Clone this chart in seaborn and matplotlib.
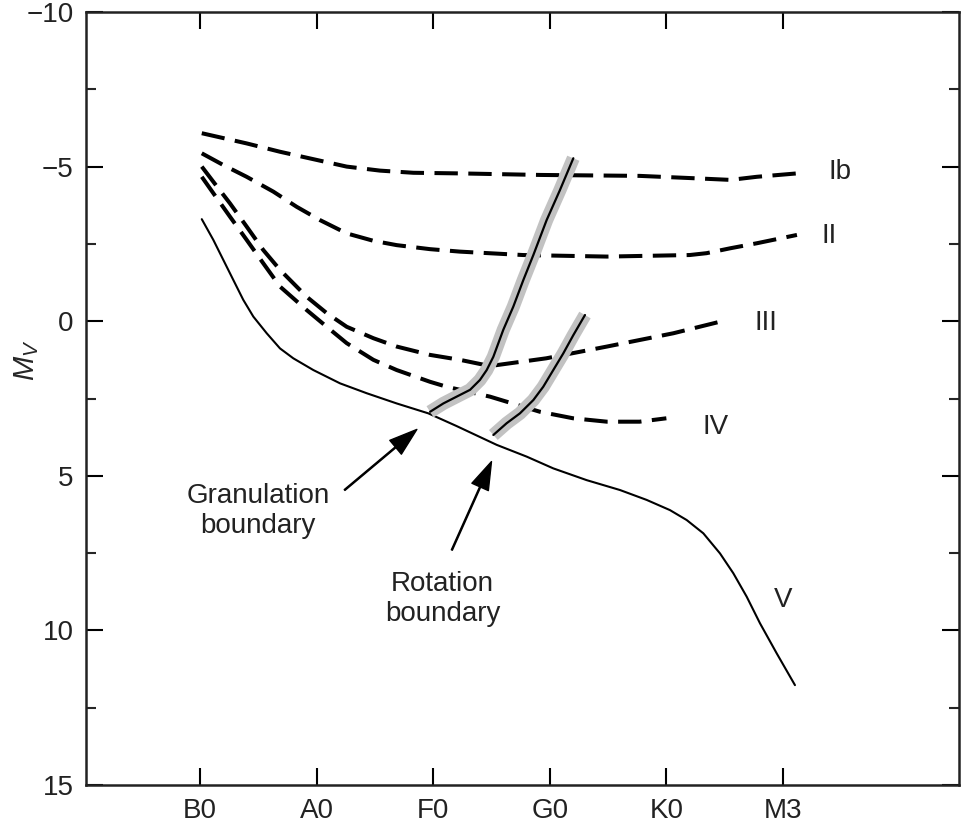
import matplotlib
matplotlib.use("Agg")
import matplotlib.pyplot as plt
import seaborn as sns
import pandas as pd

# ---- data (spectral type index: B0=0, A0=1, F0=2, G0=3, K0=4, M3=5) ----
spectral_labels = ["B0", "A0", "F0", "G0", "K0", "M3"]
spectral_pos = [0, 1, 2, 3, 4, 5]

v_x = [0.015, 0.114, 0.200, 0.286, 0.371, 0.457, 0.572, 0.686, 0.800, 0.972, 1.201, 1.430, 1.687,
       1.958, 2.200, 2.545, 2.802, 3.030, 3.316, 3.602, 3.831, 4.031, 4.174, 4.317, 4.460, 4.574,
       4.689, 4.803, 4.946, 5.103]
v_y = [-3.30, -2.63, -1.98, -1.33, -0.69, -0.15, 0.39, 0.88, 1.20, 1.58, 2.01, 2.33, 2.66,
       2.98, 3.39, 4.00, 4.38, 4.76, 5.14, 5.46, 5.78, 6.11, 6.43, 6.86, 7.51, 8.15,
       8.91, 9.77, 10.74, 11.77]

ib_x = [0.015, 0.40, 0.686, 0.972, 1.258, 1.544, 1.83, 2.23, 2.92, 3.77, 4.26, 4.55, 4.775, 5.12]
ib_y = [-6.08, -5.75, -5.48, -5.24, -5.00, -4.87, -4.80, -4.78, -4.73, -4.70, -4.62, -4.57, -4.67, -4.78]

ii_x = [0.015, 0.20, 0.40, 0.629, 0.829, 1.029, 1.258, 1.487, 1.687, 1.973, 2.23, 2.77, 3.49,
        4.20, 4.345, 4.55, 4.775, 5.12]
ii_y = [-5.43, -5.05, -4.67, -4.19, -3.70, -3.27, -2.84, -2.60, -2.46, -2.33, -2.25, -2.14, -2.09,
        -2.14, -2.20, -2.36, -2.52, -2.79]

iii_x = [0.015, 0.114, 0.257, 0.400, 0.543, 0.686, 0.915, 1.087, 1.258, 1.487, 1.687, 1.973,
         2.23, 2.487, 2.97, 3.49, 4.06, 4.52]
iii_y = [-5.00, -4.51, -3.81, -3.06, -2.30, -1.66, -0.79, -0.26, 0.18, 0.55, 0.82, 1.09,
         1.25, 1.45, 1.20, 0.82, 0.39, -0.04]

iv_x = [0.015, 0.114, 0.257, 0.400, 0.543, 0.686, 0.915, 1.087, 1.258, 1.487, 1.687, 1.973,
        2.115, 2.487, 2.916, 3.20, 3.49, 3.77, 4.00]
iv_y = [-4.67, -4.14, -3.38, -2.63, -1.87, -1.12, -0.36, 0.18, 0.71, 1.25, 1.58, 1.96,
        2.12, 2.44, 2.93, 3.14, 3.25, 3.25, 3.14]

gran_x = [1.973, 2.087, 2.201, 2.316, 2.401, 2.459, 2.516, 2.601, 2.687, 2.773, 2.859, 2.973, 3.087, 3.202]
gran_y = [2.93, 2.66, 2.44, 2.22, 1.90, 1.58, 1.15, 0.28, -0.47, -1.33, -2.14, -3.27, -4.24, -5.27]

rot_x = [2.516, 2.630, 2.744, 2.859, 2.944, 3.030, 3.116, 3.202, 3.302]
rot_y = [3.68, 3.30, 2.98, 2.55, 2.12, 1.58, 1.04, 0.45, -0.20]

class_labels = ["Ib", "II", "III", "IV", "V"]
class_label_x = [5.49, 5.40, 4.85, 4.42, 5.00]
class_label_y = [-4.83, -2.76, 0.06, 3.42, 9.02]

note_labels = ["Granulation\nboundary", "Rotation\nboundary"]
note_text_xy = [(0.50, 6.14), (2.08, 8.98)]
note_tail_xy = [(1.24, 5.46), (2.16, 7.40)]
note_tip_xy = [(1.86, 3.50), (2.50, 4.54)]

# ---- style ----
sns.set_theme(style="ticks")
plt.rcParams["font.family"] = ["Liberation Sans", "DejaVu Sans"]
plt.rcParams["axes.linewidth"] = 1.8
plt.rcParams["mathtext.fontset"] = "custom"
plt.rcParams["mathtext.it"] = "Liberation Sans:italic"
plt.rcParams["mathtext.rm"] = "Liberation Sans"

fig = plt.figure(figsize=(9.64, 8.24), dpi=100)
ax = fig.add_axes([86 / 964, 1 - 785 / 824, (959 - 86) / 964, (785 - 12) / 824])

dash = (0, (5.8, 2.6))
for xs, ys in [(ib_x, ib_y), (ii_x, ii_y), (iii_x, iii_y), (iv_x, iv_y)]:
    sns.lineplot(x=xs, y=ys, ax=ax, color="black", lw=2.9, linestyle=dash, sort=False, estimator=None)

sns.lineplot(x=v_x, y=v_y, ax=ax, color="black", lw=1.5, sort=False, estimator=None)

for xs, ys in [(gran_x, gran_y), (rot_x, rot_y)]:
    sns.lineplot(x=xs, y=ys, ax=ax, color="#c2c2c2", lw=9.5, sort=False, estimator=None,
                 solid_capstyle="butt", solid_joinstyle="round")
    sns.lineplot(x=xs, y=ys, ax=ax, color="black", lw=1.6, sort=False, estimator=None)

for lab, lx, ly in zip(class_labels, class_label_x, class_label_y):
    ax.text(lx, ly, lab, fontsize=20, ha="center", va="center", color="#222222")

for lab, txy, tail, tip in zip(note_labels, note_text_xy, note_tail_xy, note_tip_xy):
    ax.text(txy[0], txy[1], lab, ha="center", va="center", fontsize=20,
            color="#222222", linespacing=1.2)
    ax.annotate("", xy=tip, xytext=tail,
                arrowprops=dict(facecolor="black", edgecolor="black", width=0.8,
                                headwidth=13, headlength=20, shrink=0.0))

ax.set_xlim(-0.978, 6.51)
ax.set_ylim(15, -10)

ax.set_xticks(spectral_pos)
ax.set_xticklabels(spectral_labels)
ax.set_yticks([-10, -5, 0, 5, 10, 15])
ax.set_yticks([-7.5, -2.5, 2.5, 7.5, 12.5], minor=True)

ax.tick_params(axis="both", which="major", direction="in", length=12, width=1.5,
               top=True, right=True, labelsize=20, colors="black", pad=9)
ax.tick_params(axis="y", which="minor", direction="in", length=7, width=1.5,
               left=True, right=True)
ax.tick_params(axis="x", which="minor", bottom=False, top=False)
for lbl in ax.get_xticklabels() + ax.get_yticklabels():
    lbl.set_color("#222222")

ax.set_ylabel(r"$M_V$", fontsize=21)
ax.yaxis.set_label_coords(-0.052, 0.55)
for s in ax.spines.values():
    s.set_color("#222222")

fig.savefig("out.png", dpi=100)
